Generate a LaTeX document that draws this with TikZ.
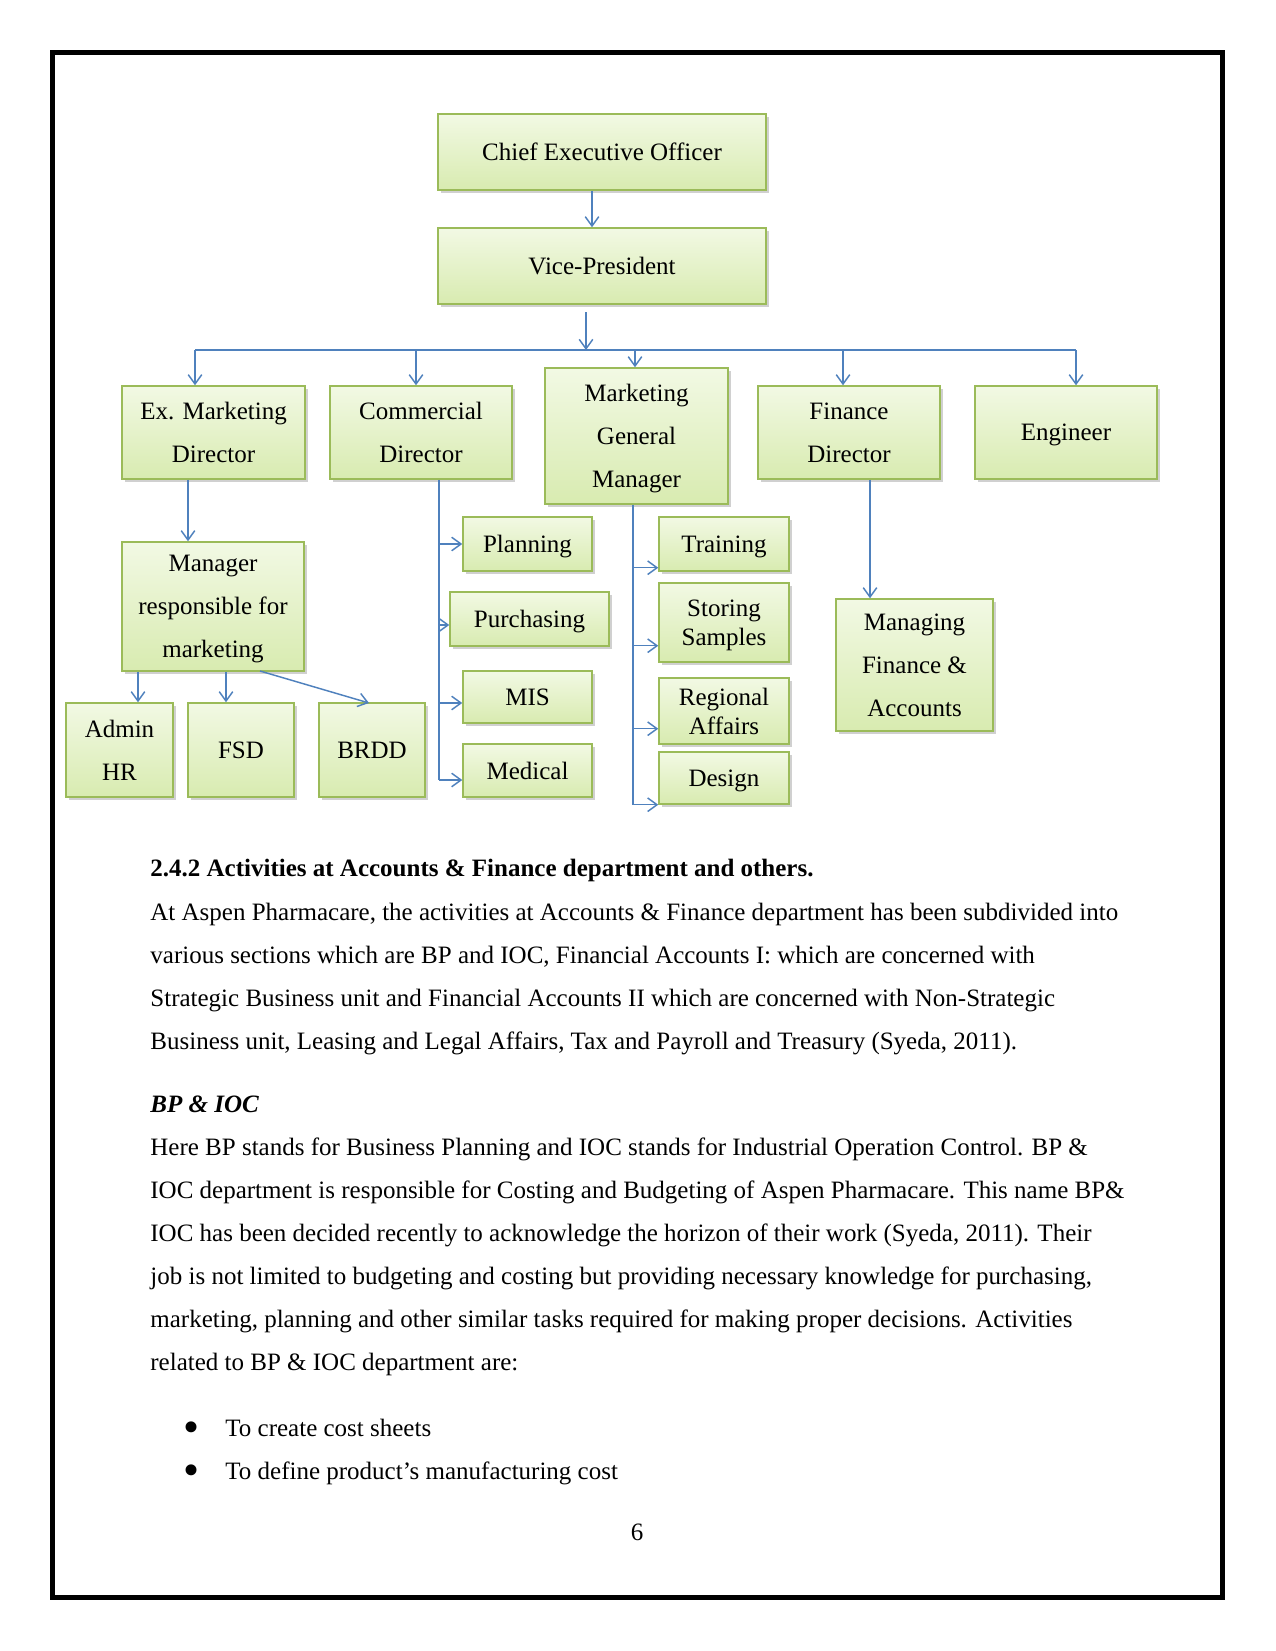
\documentclass[tikz,border=0pt]{standalone}
\usepackage{fontspec}
\setmainfont{Liberation Serif}
\usetikzlibrary{arrows.meta,shadows,calc}
\definecolor{boxline}{RGB}{155,187,89}
\definecolor{boxtop}{RGB}{242,249,228}
\definecolor{boxbot}{RGB}{216,235,176}
\definecolor{arrowblue}{RGB}{79,129,189}
\tikzset{
  orgbox/.style={draw=boxline, line width=0.7pt, top color=boxtop, bottom color=boxbot,
    drop shadow={shadow xshift=1.2pt, shadow yshift=-1.5pt, opacity=0.3, fill=black!60},
    inner sep=0pt, text depth=0pt, align=center, font=\fontsize{12pt}{20.7pt}\selectfont},
  tightbox/.style={orgbox, font=\fontsize{12pt}{13.9pt}\selectfont},
  wh/.style 2 args={minimum width=#1*0.48pt, minimum height=#2*0.48pt},
  link/.style={draw=arrowblue, line width=0.7pt},
  arr/.style={link, -{Straight Barb[length=4.5pt,width=6.5pt]}},
  txt/.style={anchor=base west, inner sep=0pt, font=\fontsize{12pt}{14pt}\selectfont},
  bul/.style={anchor=base, inner sep=0pt, font=\fontsize{22pt}{24pt}\selectfont}
}
\begin{document}
\begin{tikzpicture}[x=0.48pt,y=-0.48pt]
\useasboundingbox (0,0) rectangle (1275,1651);
\fill[white] (0,0) rectangle (1275,1651);
\draw[line width=2.4pt] (52.5,52.5) rectangle (1222.5,1597.5);

% boxes
\node[orgbox, wh={328}{76}] (ceo) at (602,152) {Chief Executive Officer};
\node[orgbox, wh={328}{76}] (vp) at (602,266) {Vice-President};
\node[orgbox, wh={183}{93}] (exm) at (213.5,432.5) {Ex. Marketing\\Director};
\node[orgbox, wh={182}{93}] (comm) at (421,432.5) {Commercial\\Director};
\node[orgbox, wh={183}{136}] (mgm) at (636.5,436) {Marketing\\General\\Manager};
\node[orgbox, wh={182}{93}] (fin) at (849,432.5) {Finance\\Director};
\node[orgbox, wh={182}{93}] (eng) at (1066,432.5) {Engineer};
\node[orgbox, wh={182}{129}] (mgr) at (213,606.5) {Manager\\responsible for\\marketing};
\node[orgbox, wh={107}{94}] (adm) at (119.5,750) {Admin\\HR};
\node[orgbox, wh={106}{94}] (fsd) at (241,750) {FSD};
\node[orgbox, wh={106}{94}] (brdd) at (372,750) {BRDD};
\node[orgbox, wh={129}{54}] (plan) at (527.5,544) {Planning};
\node[orgbox, wh={159}{54}] (pur) at (529.5,619) {Purchasing};
\node[orgbox, wh={129}{52}] (mis) at (527.5,697) {MIS};
\node[orgbox, wh={129}{53}] (med) at (527.5,770.5) {Medical};
\node[orgbox, wh={130}{54}] (tr) at (724,544) {Training};
\node[tightbox, wh={130}{79}] (ss) at (724,622.5) {Storing\\Samples};
\node[tightbox, wh={130}{66}] (ra) at (724,711) {Regional\\Affairs};
\node[orgbox, wh={130}{52}] (ds) at (724,778) {Design};
\node[orgbox, wh={157}{132}] (mfa) at (914.5,665) {Managing\\Finance \&\\Accounts};

% top connectors
\coordinate (c1) at (592,0);
\draw[arr] (c1 |- ceo.south) -- (c1 |- vp.north);
\coordinate (vpout) at (586,312);
\coordinate (busL) at (195,350);
\coordinate (busR) at (1076,350);
\draw[arr] (vpout) -- (vpout |- busL);
\draw[link] (busL) -- (busR);
\coordinate (tcomm) at (416,350);
\coordinate (tmgm) at (635,350);
\coordinate (tfin) at (843,350);
\draw[arr] (busL) -- (busL |- exm.north);
\draw[arr] (tcomm) -- (tcomm |- comm.north);
\draw[arr] (tmgm) -- (tmgm |- mgm.north);
\draw[arr] (tfin) -- (tfin |- fin.north);
\draw[arr] (busR) -- (busR |- eng.north);

% ex marketing branch
\coordinate (emx) at (188,0);
\draw[arr] (emx |- exm.south) -- (emx |- mgr.north);
\coordinate (ma) at (138,0);
\coordinate (mf) at (226,0);
\draw[arr] (ma |- mgr.south) -- (ma |- adm.north);
\draw[arr] (mf |- mgr.south) -- (mf |- fsd.north);
\coordinate (mb) at (260,671);
\coordinate (bt) at (369,703);
\draw[arr] (mb) -- (bt);

% commercial branch
\coordinate (cdx) at (439,0);
\coordinate (aPur) at ($(pur.west)+(0,6)$);
\coordinate (aMis) at ($(mis.west)+(0,6)$);
\coordinate (aMed) at ($(med.west)+(0,9.5)$);
\draw[link] (cdx |- comm.south) -- (cdx |- aMed);
\draw[arr] (cdx |- plan.west) -- (plan.west);
\draw[arr] (cdx |- aPur) -- (aPur);
\draw[arr] (cdx |- aMis) -- (aMis);
\draw[arr] (cdx |- aMed) -- (aMed);

% marketing GM branch
\coordinate (mgx) at (633,0);
\coordinate (aTr) at ($(tr.south west)+(0,-4)$);
\coordinate (aSs) at ($(ss.south west)+(0,-17)$);
\coordinate (aRa) at ($(ra.south west)+(0,-16)$);
\coordinate (aDs) at (ds.south west);
\draw[link] (mgx |- mgm.south) -- (mgx |- aDs);
\draw[arr] (mgx |- aTr) -- (aTr);
\draw[arr] (mgx |- aSs) -- (aSs);
\draw[arr] (mgx |- aRa) -- (aRa);
\draw[arr] (mgx |- aDs) -- (aDs);

% finance branch
\coordinate (fdx) at (870,0);
\draw[arr] (fdx |- fin.south) -- (fdx |- mfa.north);

% text
\node[txt, font=\fontsize{12pt}{14pt}\selectfont\bfseries] (h1) at (150,876) {2.4.2 Activities at Accounts \& Finance department and others.};
\node[txt] (p1) at (150,920) {At Aspen Pharmacare, the activities at Accounts \& Finance department has been subdivided into};
\node[txt] (p2) at (150,963) {various sections which are BP and IOC, Financial Accounts I: which are concerned with};
\node[txt] (p3) at (150,1006) {Strategic Business unit and Financial Accounts II which are concerned with Non-Strategic};
\node[txt] (p4) at (150,1049) {Business unit, Leasing and Legal Affairs, Tax and Payroll and Treasury (Syeda, 2011).};
\node[txt, font=\fontsize{12pt}{14pt}\selectfont\bfseries\itshape] (h2) at (150,1112) {BP \& IOC};
\node[txt] (q1) at (150,1155) {Here BP stands for Business Planning and IOC stands for Industrial Operation Control. BP \&};
\node[txt] (q2) at (150,1198) {IOC department is responsible for Costing and Budgeting of Aspen Pharmacare. This name BP\&};
\node[txt] (q3) at (150,1241) {IOC has been decided recently to acknowledge the horizon of their work (Syeda, 2011). Their};
\node[txt] (q4) at (150,1284) {job is not limited to budgeting and costing but providing necessary knowledge for purchasing,};
\node[txt] (q5) at (150,1327) {marketing, planning and other similar tasks required for making proper decisions. Activities};
\node[txt] (q6) at (150,1370) {related to BP \& IOC department are:};
\node[bul] (b1) at (192,1442) {•};
\node[txt] (l1) at (225,1436) {To create cost sheets};
\node[bul] (b2) at (192,1485) {•};
\node[txt] (l2) at (225,1479) {To define product’s manufacturing cost};
\node[anchor=base, inner sep=0pt, font=\fontsize{12pt}{14pt}\selectfont] (pg) at (637,1540) {6};
\end{tikzpicture}
\end{document}
